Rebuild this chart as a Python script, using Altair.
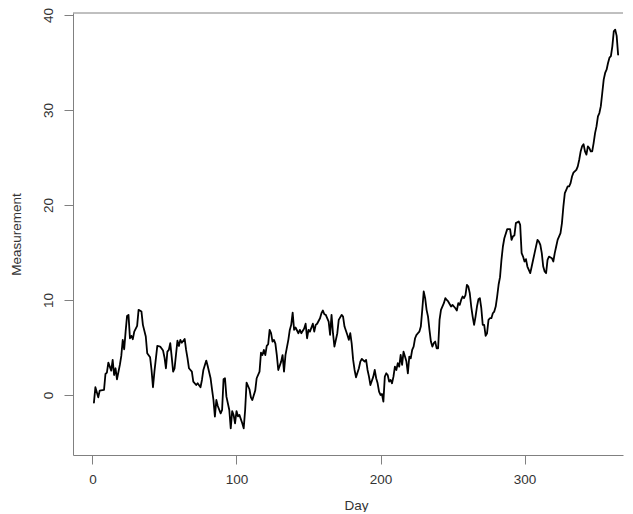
import altair as alt
import pandas as pd

day = [
    1, 2, 4, 5, 8, 9, 10, 11, 13, 14, 15, 16, 17, 19, 20, 21, 22, 23, 24, 25,
    26, 27, 28, 29, 31, 32, 34, 35, 37, 38, 40, 41, 42, 43, 45, 47, 49, 50, 51, 52,
    53, 54, 55, 56, 57, 59, 60, 61, 62, 64, 65, 66, 67, 69, 70, 72, 73, 75, 76, 77,
    79, 80, 82, 83, 84, 85, 86, 87, 89, 90, 91, 92, 93, 95, 96, 97, 98, 99, 100, 101,
    102, 104, 105, 106, 107, 109, 110, 111, 113, 114, 116, 117, 118, 119, 120, 121, 122, 123, 124, 125,
    126, 127, 128, 129, 131, 132, 133, 134, 136, 137, 138, 139, 140, 141, 143, 144, 145, 147, 148, 149,
    150, 151, 153, 154, 155, 156, 158, 159, 160, 161, 162, 164, 165, 166, 167, 168, 170, 171, 173, 174,
    175, 177, 178, 179, 180, 181, 182, 183, 185, 186, 187, 189, 190, 191, 192, 193, 195, 196, 197, 198,
    199, 200, 201, 202, 203, 204, 205, 206, 207, 208, 209, 210, 211, 212, 213, 214, 215, 216, 217, 218,
    219, 220, 221, 222, 223, 224, 225, 226, 227, 228, 229, 230, 231, 232, 233, 234, 235, 236, 237, 238,
    239, 240, 241, 242, 244, 245, 246, 247, 249, 250, 251, 252, 253, 254, 255, 256, 257, 258, 259, 260,
    261, 262, 263, 264, 265, 266, 267, 268, 269, 270, 271, 272, 273, 274, 275, 276, 277, 278, 279, 280,
    281, 282, 283, 284, 285, 286, 288, 290, 291, 292, 293, 294, 296, 297, 298, 299, 300, 301, 302, 304,
    305, 306, 307, 309, 310, 311, 312, 313, 314, 315, 316, 317, 319, 320, 321, 322, 323, 325, 326, 327,
    328, 329, 330, 331, 332, 333, 334, 336, 337, 338, 339, 340, 341, 342, 343, 344, 345, 346, 347, 348,
    349, 350, 351, 352, 353, 354, 355, 356, 357, 358, 359, 360, 361, 362, 363, 364, 365,
]
measurement = [
    -0.81, 0.81, -0.25, 0.46, 0.53, 2.21, 2.35, 3.40, 2.56, 3.69, 2.10, 2.81, 1.65, 3.16, 4.11, 5.80, 4.81, 6.67, 8.32, 8.43,
    5.97, 6.22, 5.87, 6.67, 7.27, 8.96, 8.78, 7.38, 6.15, 4.39, 3.97, 2.63, 0.81, 2.46, 5.16, 5.10, 4.67, 3.95, 2.81, 4.56,
    4.74, 5.45, 4.00, 2.46, 2.81, 5.72, 5.16, 5.80, 5.50, 5.90, 4.74, 3.86, 2.81, 2.46, 1.40, 1.05, 1.23, 0.81, 1.58, 2.63,
    3.62, 3.05, 1.76, 0.60, -0.53, -2.28, -0.53, -1.16, -1.93, -1.58, 1.65, 1.76, -0.18, -1.58, -3.51, -1.70, -2.11, -2.98, -1.70, -2.25,
    -2.10, -2.98, -3.51, -1.58, 1.30, 0.60, -0.25, -0.53, 0.46, 1.76, 2.46, 4.46, 4.20, 4.74, 4.20, 5.16, 5.34, 6.85, 6.50, 5.62,
    5.80, 5.40, 4.20, 2.63, 3.51, 4.20, 2.46, 4.20, 5.80, 6.85, 7.38, 8.67, 6.85, 7.10, 6.50, 6.85, 6.50, 7.00, 7.50, 5.97,
    6.85, 6.67, 7.50, 6.67, 7.38, 7.50, 8.08, 8.60, 8.89, 8.50, 8.43, 7.73, 6.32, 8.43, 6.50, 5.09, 6.50, 7.90, 8.43, 8.25,
    7.20, 6.32, 5.80, 6.50, 5.40, 3.69, 2.63, 1.86, 2.81, 3.51, 3.80, 3.51, 3.69, 2.63, 1.93, 1.05, 1.93, 2.63, 1.76, 1.23,
    0.35, 0.00, 0.10, -0.70, 1.93, 2.28, 2.10, 1.41, 1.58, 1.23, 1.93, 2.98, 2.63, 3.34, 2.98, 4.21, 3.16, 4.56, 4.04, 3.51,
    2.28, 4.04, 3.86, 4.74, 5.09, 5.97, 6.32, 6.50, 6.67, 7.20, 8.96, 10.89, 10.19, 8.96, 8.25, 6.85, 5.62, 5.09, 5.45, 5.62,
    4.91, 4.91, 7.90, 8.96, 9.66, 10.19, 10.00, 9.84, 9.31, 9.48, 9.31, 9.13, 8.89, 9.66, 9.48, 10.00, 10.36, 10.19, 10.50, 11.59,
    11.40, 10.71, 9.31, 8.25, 7.38, 8.25, 9.31, 10.07, 10.19, 9.13, 7.38, 7.38, 6.22, 6.50, 7.90, 8.08, 8.08, 8.60, 8.78, 9.31,
    10.36, 11.60, 12.40, 14.23, 15.63, 16.50, 17.46, 17.46, 16.33, 16.70, 16.80, 18.09, 18.27, 17.90, 14.93, 14.57, 14.05, 14.30, 13.52, 12.82,
    13.52, 14.23, 14.93, 16.33, 16.15, 15.80, 14.93, 13.52, 13.00, 12.82, 14.23, 14.57, 14.40, 14.05, 14.93, 15.63, 16.33, 17.04, 18.09, 19.84,
    21.25, 21.60, 21.95, 21.95, 22.30, 23.00, 23.40, 23.70, 24.06, 24.76, 25.64, 26.17, 26.40, 25.64, 25.30, 26.17, 26.00, 25.64, 25.64, 26.52,
    27.57, 28.27, 29.33, 29.68, 30.40, 31.79, 33.19, 33.90, 34.24, 34.95, 35.50, 35.66, 36.70, 38.28, 38.46, 37.80, 35.83,
]

x_ticks = [0, 100, 200, 300]
y_ticks = [0, 10, 20, 30, 40]
x_domain = [-13.54, 368.4]
y_domain = [-6.32, 40.21]

df = pd.DataFrame({"Day": day, "Measurement": measurement})

W, H = 550, 442
FONT = "Liberation Sans"
AXIS_GRAY = "#808080"
TEXT = "#333333"

line = alt.Chart(df).mark_line(
    color="black", strokeWidth=1.8, strokeJoin="round", strokeCap="round"
).encode(
    x=alt.X(
        "Day:Q",
        scale=alt.Scale(domain=x_domain, nice=False, zero=False),
        axis=alt.Axis(
            values=x_ticks, title="Day", grid=False,
            tickSize=9, labelPadding=8, labelFontSize=13.5,
            titleX=283, titleY=54, titleAnchor="middle", titleAlign="center",
            titleBaseline="alphabetic", titleFontSize=13.5,
        ),
    ),
    y=alt.Y(
        "Measurement:Q",
        scale=alt.Scale(domain=y_domain, nice=False, zero=False),
        axis=alt.Axis(
            values=y_ticks, title="Measurement", grid=False,
            tickSize=9, labelPadding=12, labelAngle=270,
            labelAlign="center", labelBaseline="alphabetic", labelFontSize=13.5,
            titleX=-53, titleY=221, titleAngle=270, titleAlign="center",
            titleBaseline="alphabetic", titleFontSize=13.5,
        ),
    ),
)

top_border = alt.Chart(pd.DataFrame({"k": [0]})).mark_rule(
    color=AXIS_GRAY, strokeWidth=1
).encode(x=alt.value(0), x2=alt.value(W), y=alt.value(0))

chart = (
    alt.layer(line, top_border)
    .properties(
        width=W, height=H,
        padding={"left": 65, "top": 5, "right": 2, "bottom": 57},
        autosize=alt.AutoSizeParams(type="none"),
        background="white",
    )
    .configure_view(stroke=None)
    .configure_axis(
        domainColor=AXIS_GRAY, tickColor=AXIS_GRAY, domainWidth=1, tickWidth=1,
        labelColor=TEXT, titleColor=TEXT, labelFont=FONT, titleFont=FONT,
        titleFontWeight="normal",
    )
)

chart.save("out.html", embed_options={"renderer": "svg", "actions": False})
